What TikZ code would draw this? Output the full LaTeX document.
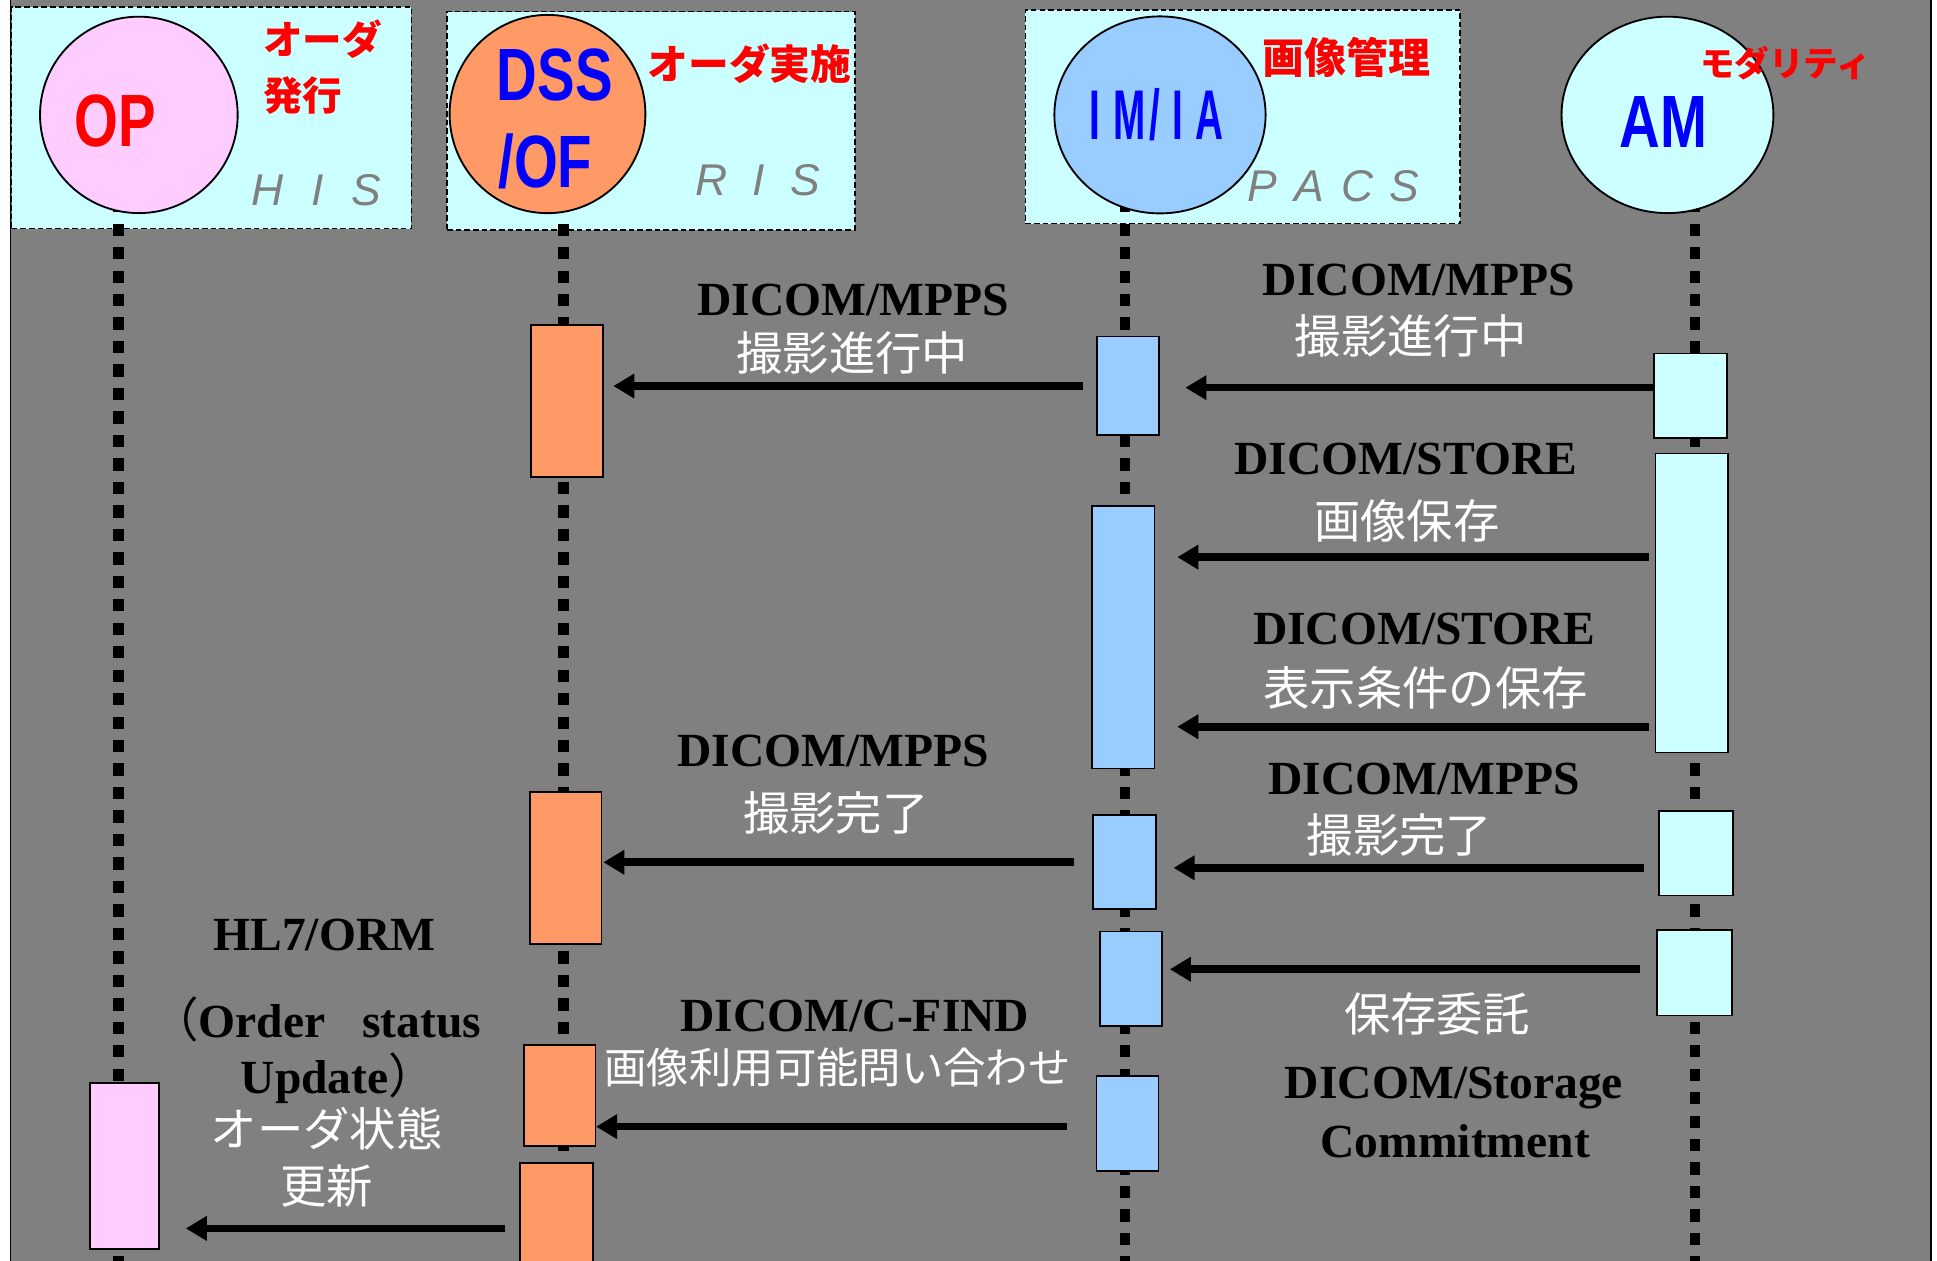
\documentclass[tikz,border=0pt]{standalone}
\usepackage{fontspec}
\setmainfont{Liberation Serif}
\newfontfamily\jpfont{Noto Sans CJK JP}
\newfontfamily\sysfont{Liberation Sans}
\newfontfamily\condfont[FakeStretch=0.76]{Liberation Sans}
\newfontfamily\narrowfont[FakeStretch=0.55]{Liberation Sans}
\usetikzlibrary{arrows.meta,shapes.geometric}

\definecolor{bggray}{HTML}{808080}
\definecolor{paleCyan}{HTML}{CCFFFF}
\definecolor{palePink}{HTML}{FFCCFF}
\definecolor{salmon}{HTML}{FF9966}
\definecolor{skyBlue}{HTML}{99CCFF}

% rectangle node given by its corners: name, style, x1, y1, x2, y2
\newcommand\rectnode[6]{%
  \node[#2, minimum width={(#5)-(#3)}, minimum height={(#6)-(#4)}]
    (#1) at ({((#3)+(#5))/2},{((#4)+(#6))/2}) {};}

\begin{document}
\begin{tikzpicture}[x=1pt,y=-1pt,
  sysbox/.style={draw=black, line width=1.2pt, dash pattern=on 4.5pt off 2.5pt,
    fill=paleCyan, inner sep=0pt, outer sep=0pt},
  actbar/.style={draw=black, line width=1.3pt, inner sep=0pt, outer sep=0pt},
  actor/.style={ellipse, draw=black, line width=1.5pt, inner sep=0pt, outer sep=0pt},
  lifeline/.style={line width=8.5pt, dash pattern=on 10pt off 9pt},
  msg/.style={line width=6.2pt, -{Triangle[length=17pt,width=19pt]}},
  proto/.style={font=\bfseries\fontsize{38.5}{44}\selectfont, text=black,
    inner sep=0pt, anchor=base},
  jptext/.style={font=\jpfont\fontsize{37.5}{44}\selectfont, text=white, inner sep=0pt},
  rolelbl/.style={text=red, inner sep=0pt, anchor=west},
  syslbl/.style={font=\sysfont\itshape\fontsize{36}{36}\selectfont, text=bggray,
    inner sep=0pt, anchor=base west},
  actname/.style={font=\condfont\bfseries\fontsize{60}{71}\selectfont,
    inner sep=0pt, anchor=base},
]
\useasboundingbox (0,0) rectangle (1568,1020);
\clip (0,0) rectangle (1568,1020);
\fill[white] (0,0) rectangle (1568,1020);
\draw[line width=1.5pt, fill=bggray] (8.5,-10) rectangle (1563,1030);

% system frames
\rectnode{his}{sysbox}{9.5}{5.5}{333}{185}
\rectnode{ris}{sysbox}{362}{9.5}{692}{186}
\rectnode{pacs}{sysbox}{830}{8}{1182}{181}

% lifelines
\coordinate (opTop) at (96,162);    \coordinate (opBot) at (96,1030);
\coordinate (dssTop) at (456,162);  \coordinate (dssBot) at (456,1030);
\coordinate (imTop) at (910.5,162); \coordinate (imBot) at (910.5,1030);
\coordinate (amTop) at (1372,162);  \coordinate (amBot) at (1372,1030);
\draw[lifeline] (opTop) -- (opBot);
\draw[lifeline] (dssTop) -- (dssBot);
\draw[lifeline] (imTop) -- (imBot);
\draw[lifeline] (amTop) -- (amBot);

% actors
\node[actor, fill=palePink, minimum width=160pt, minimum height=159pt] (opC) at (112.4,93) {};
\node[actor, fill=salmon, minimum width=158.5pt, minimum height=160.5pt] (dssC) at (443.2,92.3) {};
\node[actor, fill=skyBlue, minimum width=171pt, minimum height=159.5pt] (imC) at (939,93) {};
\node[actor, fill=paleCyan, minimum width=171.5pt, minimum height=159pt] (amC) at (1349.8,93) {};

\node[actname, text=red] (opT) at (93,118.5) {OP};
\node[actname, text=blue] (dssT1) at (449,81) {DSS};
\node[actname, text=blue] (dssT2) at (441.5,151.5) {/OF};
\node[actname, text=blue, font=\narrowfont\bfseries\fontsize{57}{60}\selectfont]
  (imT) at (936,112.8) {I\hspace{11pt}M\hspace{3pt}/\hspace{10pt}I\hspace{10pt}A};
\node[actname, text=blue] (amT) at (1346.5,119) {AM};

% roles
\node[rolelbl, align=left, font=\jpfont\bfseries\fontsize{32}{45}\selectfont]
  (hisRole) at (213,54.5) {オーダ\\発行};
\node[rolelbl, font=\jpfont\bfseries\fontsize{33}{40}\selectfont] (risRole) at (524,51.7) {オーダ実施};
\node[rolelbl, font=\jpfont\bfseries\fontsize{34}{40}\selectfont] (pacsRole) at (1022,46.5) {画像管理};
\node[rolelbl, font=\jpfont\bfseries\fontsize{28}{34}\selectfont] (amRole) at (1376,51) {モダリティ};

% system names
\node[syslbl] (hisName) at (203,166) {H\hspace{23pt}I\hspace{22pt}S};
\node[syslbl] (risName) at (563,158) {R\hspace{20pt}I\hspace{21pt}S};
\node[syslbl] (pacsName) at (1010,163.5) {P\hspace{14pt}A\hspace{14pt}C\hspace{13pt}S};

% activation bars
\rectnode{op1}{actbar, fill=palePink}{73}{876.5}{128.7}{1011}
\rectnode{dss1}{actbar, fill=salmon}{430}{263}{488}{386}
\rectnode{dss2}{actbar, fill=salmon}{429}{641}{487}{764}
\rectnode{dss3}{actbar, fill=salmon}{424}{846}{482}{927.7}
\rectnode{dss4}{actbar, fill=salmon}{421}{941.5}{480}{1040}
\rectnode{im1}{actbar, fill=skyBlue}{888}{272.5}{938}{352}
\rectnode{im2}{actbar, fill=skyBlue}{884}{409.6}{934.6}{622}
\rectnode{im3}{actbar, fill=skyBlue}{885}{659.8}{936}{736}
\rectnode{im4}{actbar, fill=skyBlue}{890.5}{754}{940.7}{830.6}
\rectnode{im5}{actbar, fill=skyBlue}{887.6}{871}{937.8}{947.7}
\rectnode{am1}{actbar, fill=paleCyan}{1339}{286}{1398}{354.7}
\rectnode{am2}{actbar, fill=paleCyan}{1340}{367}{1399}{609}
\rectnode{am3}{actbar, fill=paleCyan}{1343}{656.5}{1403}{725}
\rectnode{am4}{actbar, fill=paleCyan}{1341.5}{753}{1402}{822}

% message rows
\coordinate (r1) at (0,313.8);
\coordinate (r2) at (0,312.5);
\coordinate (r3) at (0,451);
\coordinate (r4) at (0,588.3);
\coordinate (r5) at (0,698);
\coordinate (r6) at (0,702.5);
\coordinate (r7) at (0,784.6);
\coordinate (r8) at (0,912);
\coordinate (r9) at (0,994.4);

\draw[msg, shorten >=21.6pt] (am1.west |- r1) -- (im1.east |- r1);
\draw[msg, shorten <=11pt, shorten >=8.5pt] (im1.west |- r2) -- (dss1.east |- r2);
\draw[msg, shorten <=5.3pt, shorten >=18.4pt] (am2.west |- r3) -- (im2.east |- r3);
\draw[msg, shorten <=5.3pt, shorten >=18.4pt] (am2.west |- r4) -- (im2.east |- r4);
\draw[msg, shorten <=16pt, shorten >=1.4pt] (im3.west |- r5) -- (dss2.east |- r5);
\draw[msg, shorten <=12.3pt, shorten >=14pt] (am3.west |- r6) -- (im3.east |- r6);
\draw[msg, shorten <=14pt, shorten >=6.3pt] (am4.west |- r7) -- (im4.east |- r7);
\draw[msg, shorten <=24pt, shorten >=0.5pt] (im5.west |- r8) -- (dss3.east |- r8);
\draw[msg, shorten <=12pt, shorten >=21.7pt] (dss4.west |- r9) -- (op1.east |- r9);

% message labels
\node[proto] (m1a) at (1148.5,238.8) {DICOM/MPPS};
\node[jptext] (m1b) at (1142,272) {撮影進行中};
\node[proto] (m2a) at (690.8,255) {DICOM/MPPS};
\node[jptext] (m2b) at (690,285.7) {撮影進行中};
\node[proto] (m3a) at (1138,384.5) {DICOM/STORE};
\node[jptext] (m3b) at (1138.8,422) {画像保存};
\node[proto] (m4a) at (1153,522) {DICOM/STORE};
\node[jptext] (m4b) at (1154,557) {表示条件の保存};
\node[proto] (m5a) at (674.7,620.6) {DICOM/MPPS};
\node[jptext] (m5b) at (676.7,658) {撮影完了};
\node[proto] (m6a) at (1153,643) {DICOM/MPPS};
\node[jptext] (m6b) at (1133,676) {撮影完了};
\node[jptext] (m7a) at (1163,821) {保存委託};
\node[proto] (m7b) at (1177,889) {DICOM/Storage};
\node[proto] (m7c) at (1178,936.8) {Commitment};
\node[proto] (m8a) at (692,835) {DICOM/C-FIND};
\node[jptext, font=\jpfont\fontsize{34.3}{40}\selectfont] (m8b) at (678,864) {画像利用可能問い合わせ};
\node[proto] (m9a) at (262.5,769.6) {HL7/ORM};
\node[proto] (m9b) at (256,839.5) {{\jpfont\mdseries （}Order\hspace{30pt}status};
\node[proto] (m9c) at (274,885) {Update{\jpfont\mdseries ）}};
\node[jptext] (m9d) at (264.5,914) {オーダ状態};
\node[jptext] (m9e) at (264.4,960) {更新};
\end{tikzpicture}
\end{document}
